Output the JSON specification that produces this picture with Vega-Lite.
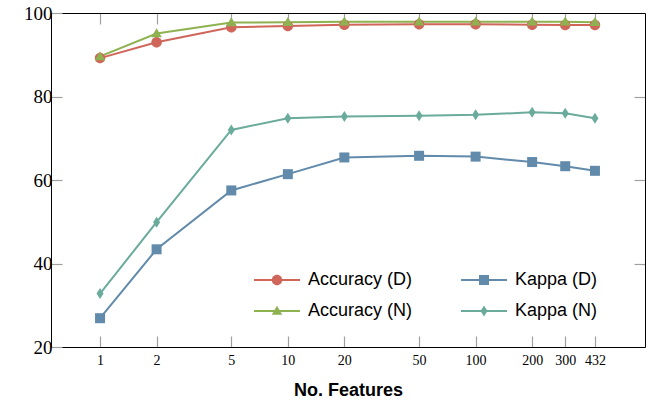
{
  "$schema": "https://vega.github.io/schema/vega-lite/v6.json",
  "width": 594,
  "height": 334,
  "autosize": "none",
  "padding": {"left": 51, "top": 13, "right": 3, "bottom": 53},
  "data": {"values": [
    {"features": 1, "series": "Accuracy (D)", "value": 89.2},
    {"features": 2, "series": "Accuracy (D)", "value": 93.0},
    {"features": 5, "series": "Accuracy (D)", "value": 96.6},
    {"features": 10, "series": "Accuracy (D)", "value": 96.9},
    {"features": 20, "series": "Accuracy (D)", "value": 97.2},
    {"features": 50, "series": "Accuracy (D)", "value": 97.3},
    {"features": 100, "series": "Accuracy (D)", "value": 97.3},
    {"features": 200, "series": "Accuracy (D)", "value": 97.2},
    {"features": 300, "series": "Accuracy (D)", "value": 97.1},
    {"features": 432, "series": "Accuracy (D)", "value": 97.1},
    {"features": 1, "series": "Kappa (D)", "value": 26.9},
    {"features": 2, "series": "Kappa (D)", "value": 43.4},
    {"features": 5, "series": "Kappa (D)", "value": 57.5},
    {"features": 10, "series": "Kappa (D)", "value": 61.4},
    {"features": 20, "series": "Kappa (D)", "value": 65.4},
    {"features": 50, "series": "Kappa (D)", "value": 65.8},
    {"features": 100, "series": "Kappa (D)", "value": 65.6},
    {"features": 200, "series": "Kappa (D)", "value": 64.3},
    {"features": 300, "series": "Kappa (D)", "value": 63.3},
    {"features": 432, "series": "Kappa (D)", "value": 62.2},
    {"features": 1, "series": "Accuracy (N)", "value": 89.6},
    {"features": 2, "series": "Accuracy (N)", "value": 95.1},
    {"features": 5, "series": "Accuracy (N)", "value": 97.7},
    {"features": 10, "series": "Accuracy (N)", "value": 97.8},
    {"features": 20, "series": "Accuracy (N)", "value": 97.9},
    {"features": 50, "series": "Accuracy (N)", "value": 97.9},
    {"features": 100, "series": "Accuracy (N)", "value": 97.9},
    {"features": 200, "series": "Accuracy (N)", "value": 97.9},
    {"features": 300, "series": "Accuracy (N)", "value": 97.9},
    {"features": 432, "series": "Accuracy (N)", "value": 97.8},
    {"features": 1, "series": "Kappa (N)", "value": 32.8},
    {"features": 2, "series": "Kappa (N)", "value": 49.9},
    {"features": 5, "series": "Kappa (N)", "value": 72.0},
    {"features": 10, "series": "Kappa (N)", "value": 74.8},
    {"features": 20, "series": "Kappa (N)", "value": 75.2},
    {"features": 50, "series": "Kappa (N)", "value": 75.4},
    {"features": 100, "series": "Kappa (N)", "value": 75.6},
    {"features": 200, "series": "Kappa (N)", "value": 76.2},
    {"features": 300, "series": "Kappa (N)", "value": 76.0},
    {"features": 432, "series": "Kappa (N)", "value": 74.8}
  ]},
  "config": {
    "view": {"stroke": null},
    "axis": {
      "domainColor": "#000000",
      "domainWidth": 1,
      "tickColor": "#a0a0a0",
      "tickWidth": 1.2,
      "tickSize": -11,
      "grid": false,
      "labelFont": "Liberation Serif",
      "labelColor": "#000000",
      "titleFont": "Liberation Sans",
      "titleColor": "#000000"
    },
    "legend": {
      "labelFont": "Liberation Sans",
      "labelFontSize": 18,
      "labelColor": "#000000"
    }
  },
  "layer": [
    {
      "mark": {"type": "line", "strokeWidth": 2},
      "encoding": {
        "x": {
          "field": "features", "type": "quantitative",
          "scale": {"type": "log", "domain": [0.548, 798], "nice": false},
          "axis": {
            "orient": "bottom",
            "values": [1, 2, 5, 10, 20, 50, 100, 200, 300, 432],
            "labelFontSize": 14,
            "labelPadding": 17,
            "labelFlush": false,
            "title": "No. Features",
            "titleFontSize": 18,
            "titleFontWeight": "bold",
            "titlePadding": 14
          }
        },
        "y": {
          "field": "value", "type": "quantitative",
          "scale": {"domain": [20, 100], "nice": false, "zero": false},
          "axis": {
            "orient": "left",
            "values": [20, 40, 60, 80, 100],
            "labelFontSize": 19,
            "labelPadding": 10,
            "labelFlush": false,
            "title": null
          }
        },
        "stroke": {
          "field": "series", "type": "nominal",
          "scale": {
            "domain": ["Accuracy (D)", "Accuracy (N)", "Kappa (D)", "Kappa (N)"],
            "range": ["#d0665a", "#8db24f", "#618aab", "#6aab9c"]
          },
          "legend": {
            "title": null,
            "orient": "none",
            "legendX": 202,
            "legendY": 255,
            "columns": 2,
            "padding": 0,
            "symbolType": "stroke",
            "symbolSize": 2116,
            "symbolStrokeWidth": 2,
            "labelOffset": 7,
            "columnPadding": 47,
            "rowPadding": 7,
            "clipHeight": 24
          }
        }
      }
    },
    {
      "mark": {"type": "point", "filled": true, "opacity": 1, "size": 100, "strokeWidth": 0},
      "encoding": {
        "x": {
          "field": "features", "type": "quantitative",
          "scale": {"type": "log", "domain": [0.548, 798], "nice": false},
          "axis": {
            "orient": "top",
            "values": [1, 2, 5, 10, 20, 50, 100, 200, 300, 432],
            "labels": false,
            "title": null
          }
        },
        "y": {
          "field": "value", "type": "quantitative",
          "scale": {"domain": [20, 100], "nice": false, "zero": false},
          "axis": {
            "orient": "right",
            "values": [40, 60, 80],
            "labels": false,
            "title": null
          }
        },
        "fill": {
          "field": "series", "type": "nominal",
          "scale": {"range": ["#d0665a", "#8db24f", "#618aab", "#6aab9c"]},
          "legend": {
            "title": null,
            "orient": "none",
            "legendX": 217,
            "legendY": 255,
            "columns": 2,
            "padding": 0,
            "symbolSize": 100,
            "symbolStrokeWidth": 0,
            "labelOffset": 7,
            "labelExpr": "''",
            "columnPadding": 182,
            "rowPadding": 7,
            "clipHeight": 24
          }
        },
        "shape": {
          "field": "series", "type": "nominal",
          "scale": {
            "range": [
              "M1.05,0A1.05,1.05 0 1,1 -1.05,0A1.05,1.05 0 1,1 1.05,0Z",
              "M0,-1.05L1.05,0.75H-1.05Z",
              "M-1,-1H1V1H-1Z",
              "M0,-1.1L0.7,0L0,1.1L-0.7,0Z"
            ]
          },
          "legend": {
            "title": null,
            "orient": "none",
            "legendX": 217,
            "legendY": 255,
            "columns": 2,
            "padding": 0,
            "symbolSize": 100,
            "symbolStrokeWidth": 0,
            "labelOffset": 7,
            "labelExpr": "''",
            "columnPadding": 182,
            "rowPadding": 7,
            "clipHeight": 24
          }
        }
      }
    }
  ],
  "resolve": {"axis": {"x": "independent", "y": "independent"}}
}
